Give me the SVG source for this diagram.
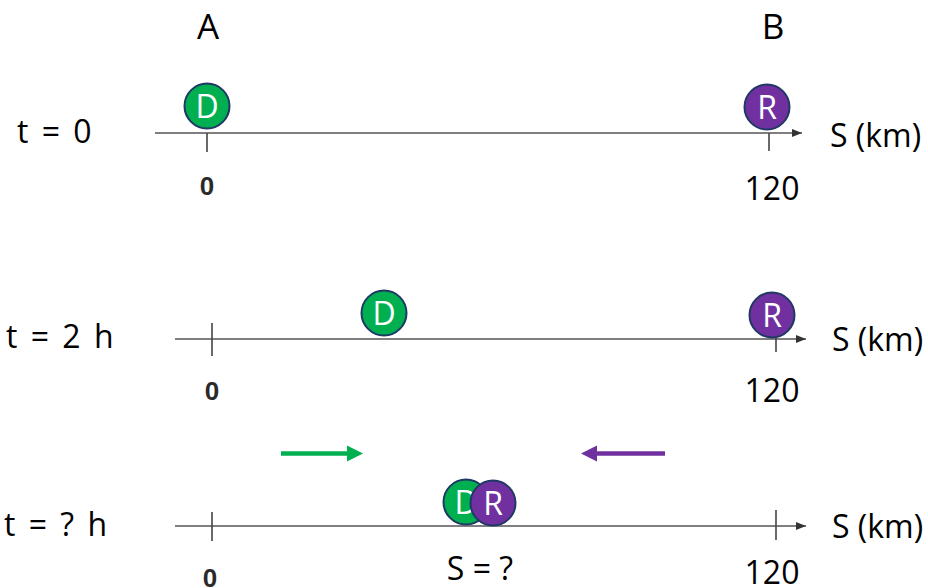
<svg xmlns="http://www.w3.org/2000/svg" width="928" height="588" viewBox="0 0 928 588">
<defs>
<style>
.t{font-family:"Open Sans","Liberation Sans",sans-serif;font-size:32px;fill:#000}
.w{word-spacing:5px}
.big{font-size:35px}
.z{font-family:"Liberation Sans",Arial,sans-serif;font-size:26px;font-weight:bold;fill:#2a2a2a;text-anchor:middle}
.m{text-anchor:middle}
.ax{stroke:#555;stroke-width:1.6;fill:none}
.tk{stroke:#444;stroke-width:1.6}
.g{fill:#00B050;stroke:#1F3864;stroke-width:2}
.p{fill:#7030A0;stroke:#1F3864;stroke-width:2}
.l{font-family:"Open Sans","Liberation Sans",sans-serif;font-size:32px;fill:#fff;text-anchor:middle}
</style>
<marker id="ah" viewBox="0 0 10 10" refX="10" refY="5" markerWidth="10" markerHeight="10" markerUnits="userSpaceOnUse" orient="auto">
<path d="M0,1 L10,5 L0,9 Z" fill="#333"/>
</marker>
</defs>
<g id="labels">
<text class="t m big" x="208" y="39">A</text>
<text class="t m big" x="773" y="39">B</text>
<text class="t w" x="17" y="143">t = 0</text>
<text class="t w" x="6" y="348">t = 2 h</text>
<text class="t w" x="4" y="536">t = ? h</text>
<text class="t" x="830" y="147">S (km)</text>
<text class="t" x="832" y="351">S (km)</text>
<text class="t" x="832" y="538">S (km)</text>
<text class="t m" x="772" y="200">120</text>
<text class="t m" x="772" y="402">120</text>
<text class="t m" x="772" y="584">120</text>
<text class="z" x="207" y="195">0</text>
<text class="z" x="212" y="400">0</text>
<text class="z" x="210" y="587">0</text>
<text class="t m" x="480" y="580">S = ?</text>
</g>
<g id="connectors">
<line class="ax" x1="155" y1="133" x2="802" y2="133" marker-end="url(#ah)"/>
<line class="tk" x1="207" y1="133" x2="207" y2="152"/>
<line class="tk" x1="769" y1="133" x2="769" y2="151"/>
<line class="ax" x1="175" y1="339" x2="806" y2="339" marker-end="url(#ah)"/>
<line class="tk" x1="212" y1="323" x2="212" y2="356"/>
<line class="tk" x1="776" y1="330" x2="776" y2="352"/>
<line class="ax" x1="175" y1="526" x2="806" y2="526" marker-end="url(#ah)"/>
<line class="tk" x1="212" y1="512" x2="212" y2="541"/>
<line class="tk" x1="776" y1="510" x2="776" y2="540"/>
<g id="arrow-green">
<line x1="281" y1="453.5" x2="348" y2="453.5" stroke="#00B050" stroke-width="4.5"/>
<path d="M347,445.5 L363,453.5 L347,461.5 Z" fill="#00B050"/>
</g>
<g id="arrow-purple">
<line x1="665" y1="453.5" x2="596" y2="453.5" stroke="#7030A0" stroke-width="4.5"/>
<path d="M597,445.5 L581,453.5 L597,461.5 Z" fill="#7030A0"/>
</g>
</g>
<g id="D1"><circle class="g" cx="207" cy="106" r="22.5"/><text class="l" x="207" y="117.5">D</text></g>
<g id="R1"><circle class="p" cx="767" cy="107" r="22.5"/><text class="l" x="767" y="118.5">R</text></g>
<g id="D2"><circle class="g" cx="384" cy="313" r="22.5"/><text class="l" x="384" y="324.5">D</text></g>
<g id="R2"><circle class="p" cx="772" cy="315" r="22.5"/><text class="l" x="772" y="326.5">R</text></g>
<g id="D3"><circle class="g" cx="466" cy="502" r="22.5"/><text class="l" x="466" y="513.5">D</text></g>
<g id="R3"><circle class="p" cx="493" cy="503" r="22.5"/><text class="l" x="493" y="514.5">R</text></g>
</svg>
